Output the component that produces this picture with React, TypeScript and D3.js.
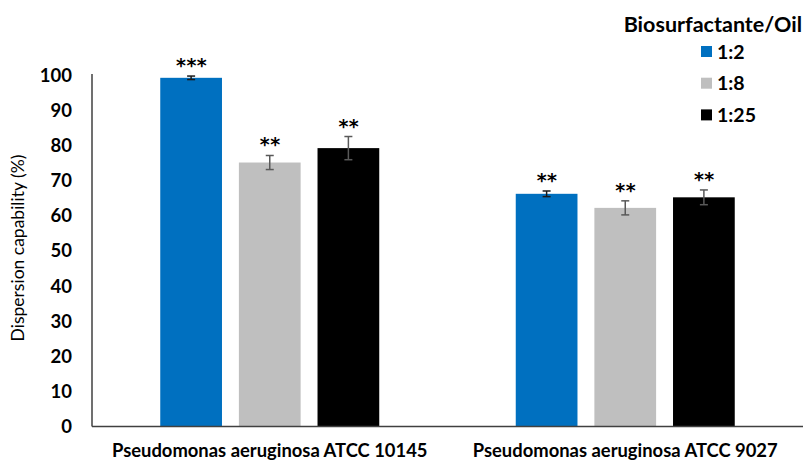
import React from "react";
import * as d3 from "d3";

const categories = ["Pseudomonas aeruginosa ATCC 10145", "Pseudomonas aeruginosa ATCC 9027"];
const seriesNames = ["1:2", "1:8", "1:25"];
const seriesColors = ["#0070C0", "#BFBFBF", "#000000"];
const errColors = ["#1a1a1a", "#595959", "#595959"];
const values = [
  [99.2, 66.2],
  [75.1, 62.2],
  [79.2, 65.2],
];
const errors = [
  [0.5, 0.8],
  [2.0, 2.0],
  [3.3, 2.1],
];
const stars = [
  ["***", "**"],
  ["**", "**"],
  ["**", "**"],
];
const yTicks = [0, 10, 20, 30, 40, 50, 60, 70, 80, 90, 100];

const W = 803, H = 463;
const left = 92, right = 803, top = 75, bottom = 426.5;
const font = "Lato, 'Open Sans', sans-serif";

export default function App() {
  const y = d3.scaleLinear().domain([0, 100]).range([bottom, top]);
  const x0 = d3.scaleBand().domain(categories).range([left, right]).paddingInner(0).paddingOuter(0);
  const groupW = 219;
  const x1 = d3.scaleBand().domain(seriesNames).range([0, groupW]).paddingInner(0.215).paddingOuter(0);

  return (
    <svg width={W} height={H} style={{ position: "absolute", left: 0, top: 0, background: "#fff" }}>
      {seriesNames.map((s, si) =>
        categories.map((c, ci) => {
          const gx = (x0(c) as number) + x0.bandwidth() / 2 - groupW / 2 + (x1(s) as number);
          const v = values[si][ci];
          const e = errors[si][ci];
          const cx = gx + x1.bandwidth() / 2;
          return (
            <g key={s + c}>
              <rect x={gx} y={y(v)} width={x1.bandwidth()} height={y(0) - y(v)} fill={seriesColors[si]} />
              <line x1={cx} x2={cx} y1={y(v + e)} y2={y(v - e)} stroke={errColors[si]} strokeWidth={1.5} />
              <line x1={cx - 4} x2={cx + 4} y1={y(v + e)} y2={y(v + e)} stroke={errColors[si]} strokeWidth={1.5} />
              <line x1={cx - 4} x2={cx + 4} y1={y(v - e)} y2={y(v - e)} stroke={errColors[si]} strokeWidth={1.5} />
              <text x={cx + 0.5} y={y(v + e) - 4} textAnchor="middle" fontFamily="'DejaVu Sans', sans-serif" fontWeight="bold" fontSize={19} fill="#000" letterSpacing={0.5}>
                {stars[si][ci]}
              </text>
            </g>
          );
        })
      )}
      <line x1={left} x2={left} y1={top - 1} y2={bottom} stroke="#404040" strokeWidth={1.5} />
      <line x1={left} x2={right} y1={bottom} y2={bottom} stroke="#404040" strokeWidth={1.5} />
      {yTicks.map((t) => (
        <text key={t} x={72} y={y(t)} dy="0.36em" textAnchor="end" fontFamily={font} fontWeight="bold" fontSize={18.5} fill="#000">
          {t}
        </text>
      ))}
      {categories.map((c) => (
        <text key={c} x={(x0(c) as number) + x0.bandwidth() / 2} y={457} textAnchor="middle" fontFamily={font} fontWeight="bold" fontSize={18.4} fill="#000">
          {c}
        </text>
      ))}
      <text transform={`translate(24,248) rotate(-90)`} textAnchor="middle" fontFamily={font} fontSize={17.5} fill="#000">
        Dispersion capability (%)
      </text>
      <text x={802} y={32} textAnchor="end" fontFamily={font} fontWeight="bold" fontSize={21.5} fill="#000">
        Biosurfactante/Oil
      </text>
      {seriesNames.map((s, i) => (
        <g key={s}>
          <rect x={701} y={46 + i * 31.7} width={11} height={11} fill={seriesColors[i]} />
          <text x={717} y={51.5 + i * 31.7} dy="0.36em" fontFamily={font} fontWeight="bold" fontSize={19.5} fill="#000">
            {s}
          </text>
        </g>
      ))}
    </svg>
  );
}
